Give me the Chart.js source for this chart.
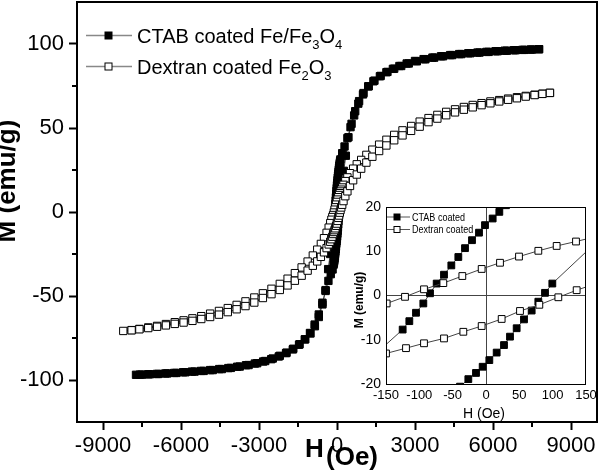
<!DOCTYPE html>
<html>
<head>
<meta charset="utf-8">
<script src="https://cdn.jsdelivr.net/npm/chart.js@4.4.1/dist/chart.umd.min.js"></script>
<style>
  html, body { margin: 0; padding: 0; background: #fff; }
  #wrap { position: relative; width: 600px; height: 471px; }
  #grafico { position: absolute; left: 0; top: 0; }
  #detalhe { position: absolute; left: 330px; top: 190px; }
</style>
</head>
<body>
<div id="wrap">
  <canvas id="grafico" width="600" height="471"></canvas>
  <canvas id="detalhe" width="268" height="240"></canvas>
</div>
<script>
// CTAB coated Fe/Fe3O4 - descending branch (field from + to -)
const ctabDownH = [7770, 7450, 7130, 6800, 6450, 6100, 5750, 5400, 5050, 4700, 4350, 4000, 3670, 3330, 3000, 2680, 2400, 2150, 1900, 1650, 1400, 1200, 1000, 820, 660, 520, 400, 290, 200, 130, 120, 110, 100, 90, 80, 70, 60, 50, 40, 30, 20, 10, -1.5, -10.5, -21, -31.5, -41.5, -52, -63, -74, -84, -94, -105, -115, -125, -190, -260, -340, -440, -560, -700, -850, -1020, -1220, -1440, -1680, -1940, -2200, -2470, -2760, -3070, -3400, -3740, -4080, -4430, -4780, -5130, -5480, -5830, -6180, -6530, -6870, -7200, -7500, -7730]
const ctabDownM = [96.9, 96.7, 96.5, 96.3, 96.0, 95.7, 95.3, 94.9, 94.5, 94.0, 93.4, 92.7, 91.9, 91.0, 89.9, 88.4, 86.9, 85.2, 83.2, 80.8, 77.8, 74.8, 70.0, 64.5, 57.5, 50.5, 44.0, 39.0, 35.0, 31.3, 30.4, 29.5, 28.5, 27.5, 26.4, 25.3, 24.1, 22.9, 21.7, 20.4, 18.9, 17.4, 15.9, 14.2, 12.5, 10.7, 8.7, 6.8, 4.7, 2.7, 0.5, -1.8, -3.9, -5.8, -7.7, -16.5, -25.0, -34.0, -46.5, -55.0, -62.5, -68.0, -72.3, -75.8, -78.7, -81.4, -83.7, -85.6, -87.2, -88.7, -90.0, -91.1, -92.0, -92.8, -93.5, -94.1, -94.6, -95.0, -95.4, -95.8, -96.1, -96.4, -96.6, -96.8, -96.9]
// CTAB - ascending branch (field from - to +)
const ctabUpH = [-7580, -7260, -6930, -6600, -6260, -5920, -5580, -5230, -4880, -4530, -4180, -3840, -3500, -3160, -2840, -2530, -2240, -1960, -1700, -1460, -1240, -1040, -860, -700, -560, -440, -330, -240, -170, -130, -120, -110, -100, -90, -80, -70, -60, -50, -39, -26.5, -15, -5, 5, 16, 27, 36, 46, 57, 68.5, 78.5, 88.5, 99.5, 190, 260, 340, 440, 560, 700, 850, 1020, 1220, 1440, 1680, 1940, 2200, 2470, 2760, 3070, 3400, 3740, 4080, 4430, 4780, 5130, 5480, 5830, 6180, 6530, 6870, 7200, 7500, 7770]
const ctabUpM = [-96.8, -96.6, -96.4, -96.1, -95.8, -95.4, -95.0, -94.6, -94.1, -93.5, -92.9, -92.1, -91.2, -90.2, -89.0, -87.6, -86.0, -84.0, -81.8, -79.0, -75.8, -72.0, -67.0, -61.0, -54.0, -47.0, -41.0, -37.0, -34.2, -31.3, -30.4, -29.5, -28.5, -27.4, -26.2, -24.9, -23.6, -22.2, -20.6, -18.9, -17.5, -16.1, -14.6, -12.9, -11.2, -9.3, -7.4, -5.4, -3.4, -1.4, 0.6, 2.7, 15.5, 24.5, 33.5, 44.5, 52.5, 60.0, 66.0, 70.8, 74.8, 78.2, 81.0, 83.4, 85.3, 86.9, 88.4, 89.7, 90.9, 91.9, 92.7, 93.4, 94.0, 94.5, 94.9, 95.3, 95.7, 96.0, 96.3, 96.5, 96.7, 96.9]

// Dextran coated Fe2O3 - descending branch
const dexDownH = [8190, 7900, 7600, 7260, 6920, 6580, 6240, 5900, 5560, 5220, 4880, 4540, 4200, 3860, 3520, 3180, 2850, 2520, 2200, 1900, 1620, 1360, 1130, 930, 760, 620, 500, 400, 320, 250, 200, 165, 135, 106, 78.5, 49.5, 21, -6.5, -35.5, -64, -93, -121.5, -149, -180, -215, -260, -320, -400, -500, -620, -760, -930, -1130, -1360, -1620, -1900, -2200, -2520, -2850, -3180, -3520, -3860, -4200, -4540, -4880, -5220, -5560, -5900, -6240, -6580, -6920, -7260, -7600, -7900, -8220]
const dexDownM = [70.9, 70.4, 69.8, 69.1, 68.3, 67.5, 66.6, 65.8, 64.8, 63.7, 62.5, 61.1, 59.6, 57.8, 55.9, 53.8, 51.2, 48.6, 45.9, 43.0, 40.1, 37.1, 34.0, 31.0, 28.4, 25.8, 23.1, 20.6, 18.4, 16.2, 14.6, 13.3, 12.2, 11.2, 10.1, 8.8, 7.4, 6.0, 4.4, 2.8, 1.4, -0.3, -1.8, -3.0, -4.6, -6.6, -9.3, -12.4, -15.6, -19.0, -22.4, -25.9, -29.5, -33.0, -36.4, -39.7, -42.8, -45.7, -48.4, -50.9, -53.2, -55.3, -57.2, -58.9, -60.5, -62.0, -63.3, -64.5, -65.6, -66.7, -67.8, -68.7, -69.6, -70.3, -70.8]
// Dextran - ascending branch
const dexUpH = [-7900, -7600, -7260, -6920, -6580, -6240, -5900, -5560, -5220, -4880, -4540, -4200, -3860, -3520, -3180, -2850, -2520, -2200, -1900, -1620, -1360, -1130, -930, -760, -620, -500, -400, -320, -260, -215, -180, -150, -120, -93, -63, -34, -6.5, 23.5, 51, 80, 108.5, 136, 165, 200, 250, 320, 400, 500, 620, 760, 930, 1130, 1360, 1620, 1900, 2200, 2520, 2850, 3180, 3520, 3860, 4200, 4540, 4880, 5220, 5560, 5900, 6240, 6580, 6920, 7260, 7600, 7900, 8190]
const dexUpM = [-70.4, -69.8, -69.1, -68.3, -67.5, -66.6, -65.8, -64.8, -63.7, -62.5, -61.1, -59.6, -57.9, -56.0, -53.9, -51.2, -48.9, -46.4, -43.7, -40.9, -37.9, -34.9, -32.0, -29.4, -26.7, -24.0, -21.5, -19.3, -17.7, -16.2, -14.7, -13.1, -11.9, -10.8, -9.7, -8.2, -6.9, -5.3, -3.5, -2.1, -0.4, 1.2, 2.7, 4.3, 6.5, 9.4, 12.3, 15.5, 18.9, 22.3, 25.8, 29.4, 32.9, 36.3, 39.6, 42.7, 45.6, 48.3, 50.8, 53.5, 55.6, 57.6, 59.3, 60.9, 62.3, 63.6, 64.7, 65.8, 66.8, 67.7, 68.7, 69.6, 70.3, 70.9]

// axes
const xTicks = [-9000, -6000, -3000, 0, 3000, 6000, 9000]
const xMinor = [-7500, -4500, -1500, 1500, 4500, 7500]
const yTicks = [-100, -50, 0, 50, 100]
const yMinor = [-75, -25, 25, 75]
const hTicksDetalhe = [-150, -100, -50, 0, 50, 100, 150]
const mTicksDetalhe = [-20, -10, 0, 10, 20]

// legend texts: [text, subscript?]
const legendaCtab = [['CTAB coated Fe/Fe', 0], ['3', 1], ['O', 0], ['4', 1]]
const legendaDex = [['Dextran coated Fe', 0], ['2', 1], ['O', 0], ['3', 1]]
const legendaDetalhe = ['CTAB coated', 'Dextran coated']

const fonte = "'Liberation Sans', Arial, sans-serif"

function pontos(hs, ms) {
    return hs.map(function (h, i) { return { x: h, y: ms[i] } })
}

const dadosCtab = pontos(ctabDownH, ctabDownM).concat(pontos(ctabUpH, ctabUpM))
const dadosDex = pontos(dexDownH, dexDownM).concat(pontos(dexUpH, dexUpM))

function conjuntos(raio) {
    return [{
        label: 'Dextran coated',
        data: dadosDex,
        showLine: true,
        borderColor: '#444',
        borderWidth: 1,
        pointStyle: 'rect',
        pointRadius: raio,
        pointBackgroundColor: '#fff',
        pointBorderColor: '#000',
        pointBorderWidth: 1
    }, {
        label: 'CTAB coated',
        data: dadosCtab,
        showLine: true,
        borderColor: '#444',
        borderWidth: 1,
        pointStyle: 'rect',
        pointRadius: raio,
        pointBackgroundColor: '#000',
        pointBorderColor: '#000',
        pointBorderWidth: 1
    }]
}

// no extra room for the end labels, the plot area is fixed
function semFolga(s) {
    s.paddingLeft = 0
    s.paddingRight = 0
    s.paddingTop = 0
    s.paddingBottom = 0
}

function marcador(ctx, x, y, lado, cheio) {
    ctx.fillStyle = cheio ? '#000' : '#fff'
    ctx.fillRect(x - lado / 2, y - lado / 2, lado, lado)
    ctx.strokeStyle = '#000'
    ctx.lineWidth = 1
    ctx.strokeRect(x - lado / 2, y - lado / 2, lado, lado)
}

function linhaLegenda(ctx, partes, yBase, yMarca, cheio) {
    ctx.strokeStyle = '#888'
    ctx.lineWidth = 1.5
    ctx.beginPath()
    ctx.moveTo(86, yMarca)
    ctx.lineTo(132, yMarca)
    ctx.stroke()
    marcador(ctx, 108.5, yMarca, 7, cheio)
    let x = 137
    ctx.fillStyle = '#000'
    ctx.textAlign = 'left'
    ctx.textBaseline = 'alphabetic'
    partes.forEach(function (p) {
        ctx.font = p[1] ? '13px ' + fonte : '20px ' + fonte
        ctx.fillText(p[0], x, p[1] ? yBase + 6 : yBase)
        x += ctx.measureText(p[0]).width
    })
}

const moldura = {
    id: 'moldura',
    afterDraw(chart) {
        const ctx = chart.ctx
        const a = chart.chartArea
        const sx = chart.scales.x
        const sy = chart.scales.y
        ctx.save()
        ctx.strokeStyle = '#000'
        ctx.lineWidth = 2
        ctx.strokeRect(a.left, a.top, a.right - a.left, a.bottom - a.top)

        // minor ticks
        ctx.beginPath()
        xMinor.forEach(function (v) {
            const p = sx.getPixelForValue(v)
            ctx.moveTo(p, a.bottom)
            ctx.lineTo(p, a.bottom + 5)
        })
        yMinor.forEach(function (v) {
            const p = sy.getPixelForValue(v)
            ctx.moveTo(a.left, p)
            ctx.lineTo(a.left - 5, p)
        })
        ctx.stroke()

        // axis titles
        ctx.fillStyle = '#000'
        ctx.font = 'bold 26px ' + fonte
        ctx.textAlign = 'left'
        ctx.textBaseline = 'alphabetic'
        ctx.fillText('H', 305, 457)
        ctx.fillText('(Oe)', 326, 465)

        ctx.save()
        ctx.translate(15, 181)
        ctx.rotate(-Math.PI / 2)
        ctx.textAlign = 'center'
        ctx.fillText('M (emu/g)', 0, 0)
        ctx.restore()

        // legend
        linhaLegenda(ctx, legendaCtab, 43, 35.5, true)
        linhaLegenda(ctx, legendaDex, 74, 66.5, false)
        ctx.restore()
    }
}

const grafico = new Chart(document.getElementById('grafico'), {
    type: 'scatter',
    data: { datasets: conjuntos(5.2) },
    options: {
        responsive: false,
        animation: false,
        layout: { autoPadding: false, padding: { top: 2, right: 3, left: 0, bottom: 0 } },
        plugins: { legend: { display: false }, tooltip: { enabled: false } },
        scales: {
            x: {
                type: 'linear',
                min: -10000,
                max: 10000,
                afterBuildTicks: function (s) { s.ticks = xTicks.map(function (v) { return { value: v } }) },
                afterFit: function (s) { s.height = 49; semFolga(s) },
                grid: { drawOnChartArea: false, color: '#000', tickLength: 8, tickWidth: 2 },
                border: { color: '#000', width: 2 },
                ticks: {
                    font: { family: fonte, size: 22 },
                    color: '#000',
                    padding: 3,
                    maxRotation: 0,
                    autoSkip: false,
                    callback: function (v) { return String(v) }
                }
            },
            y: {
                type: 'linear',
                min: -125,
                max: 125,
                afterBuildTicks: function (s) { s.ticks = yTicks.map(function (v) { return { value: v } }) },
                afterFit: function (s) { s.width = 77; semFolga(s) },
                grid: { drawOnChartArea: false, color: '#000', tickLength: 8, tickWidth: 2 },
                border: { color: '#000', width: 2 },
                ticks: {
                    font: { family: fonte, size: 22 },
                    color: '#000',
                    padding: 5,
                    autoSkip: false,
                    callback: function (v) { return String(v) }
                }
            }
        }
    },
    plugins: [moldura]
})

const molduraDetalhe = {
    id: 'molduraDetalhe',
    beforeDraw(chart) {
        const ctx = chart.ctx
        const a = chart.chartArea
        ctx.save()
        ctx.fillStyle = '#fff'
        ctx.fillRect(a.left, a.top, a.right - a.left, a.bottom - a.top)
        ctx.restore()
    },
    afterDraw(chart) {
        const ctx = chart.ctx
        const a = chart.chartArea
        ctx.save()
        ctx.strokeStyle = '#000'
        ctx.lineWidth = 1
        ctx.strokeRect(a.left + 0.5, a.top + 0.5, a.right - a.left - 1, a.bottom - a.top)

        // legend inside the inset
        const linhas = [[27, true], [39.5, false]]
        linhas.forEach(function (l, i) {
            ctx.strokeStyle = '#555'
            ctx.lineWidth = 1
            ctx.beginPath()
            ctx.moveTo(a.left + 1, l[0])
            ctx.lineTo(a.left + 24, l[0])
            ctx.stroke()
            marcador(ctx, a.left + 11, l[0], 6, l[1])
            ctx.save()
            ctx.translate(a.left + 26, l[0] + 0.5)
            ctx.scale(0.82, 1)
            ctx.fillStyle = '#000'
            ctx.font = '11px ' + fonte
            ctx.textAlign = 'left'
            ctx.textBaseline = 'middle'
            ctx.fillText(legendaDetalhe[i], 0, 0)
            ctx.restore()
        })

        // axis titles
        ctx.fillStyle = '#000'
        ctx.font = '14px ' + fonte
        ctx.textAlign = 'center'
        ctx.textBaseline = 'alphabetic'
        ctx.fillText('H (Oe)', 154, 228)

        ctx.save()
        ctx.translate(33, 110)
        ctx.rotate(-Math.PI / 2)
        ctx.font = 'bold 12px ' + fonte
        ctx.fillText('M (emu/g)', 0, 0)
        ctx.restore()
        ctx.restore()
    }
}

const detalhe = new Chart(document.getElementById('detalhe'), {
    type: 'scatter',
    data: { datasets: conjuntos(4.8) },
    options: {
        responsive: false,
        animation: false,
        layout: { autoPadding: false, padding: { top: 17, right: 12, left: 0, bottom: 0 } },
        plugins: { legend: { display: false }, tooltip: { enabled: false } },
        scales: {
            x: {
                type: 'linear',
                min: -150,
                max: 150,
                afterBuildTicks: function (s) { s.ticks = hTicksDetalhe.map(function (v) { return { value: v } }) },
                afterFit: function (s) { s.height = 46; semFolga(s) },
                grid: {
                    drawTicks: false,
                    lineWidth: 1,
                    color: function (c) { return c.tick && c.tick.value === 0 ? '#444' : 'rgba(0,0,0,0)' }
                },
                border: { display: false },
                ticks: {
                    font: { family: fonte, size: 13 },
                    color: '#000',
                    padding: 4,
                    maxRotation: 0,
                    autoSkip: false,
                    callback: function (v) { return String(v) }
                }
            },
            y: {
                type: 'linear',
                min: -20,
                max: 20,
                afterBuildTicks: function (s) { s.ticks = mTicksDetalhe.map(function (v) { return { value: v } }) },
                afterFit: function (s) { s.width = 56; semFolga(s) },
                grid: {
                    drawTicks: false,
                    lineWidth: 1,
                    color: function (c) { return c.tick && c.tick.value === 0 ? '#444' : 'rgba(0,0,0,0)' }
                },
                border: { display: false },
                ticks: {
                    font: { family: fonte, size: 14 },
                    color: '#000',
                    padding: 5,
                    autoSkip: false,
                    callback: function (v) { return String(v) }
                }
            }
        }
    },
    plugins: [molduraDetalhe]
})
</script>
</body>
</html>
